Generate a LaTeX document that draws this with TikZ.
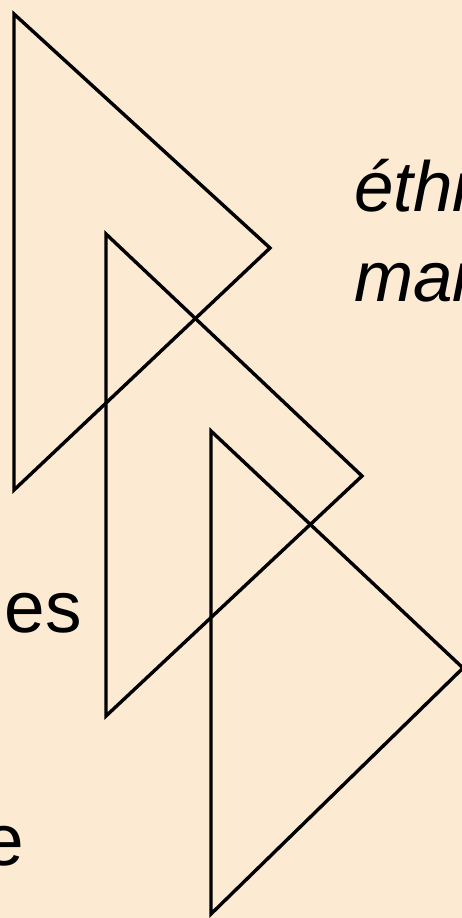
\documentclass[tikz,border=0pt]{standalone}
\usepackage{fontspec}
\setmainfont{Liberation Sans}
\definecolor{bgcol}{HTML}{FCEBD2}
\begin{document}
\begin{tikzpicture}[x=1pt,y=-1pt,
  tri/.style={draw=black,line width=3.4pt,line join=miter},
  lbl/.style={inner sep=0pt,font=\fontsize{73}{88}\selectfont},
  lbli/.style={inner sep=0pt,font=\fontsize{71}{88}\selectfont\itshape}]
\clip (0,0) rectangle (462,918);
\fill[bgcol] (0,0) rectangle (462,918);
\draw[tri] (14,14) -- (270,248) -- (14,490) -- cycle;
\draw[tri] (106,234) -- (362,476) -- (106,716) -- cycle;
\draw[tri] (211,431) -- (463,668) -- (211,914) -- cycle;
\node[lbli,anchor=base west] (t1) at (354,211) {éthi};
\node[lbli,anchor=base west] (t2) at (354,301) {mai};
\node[lbl,anchor=base east] (t3) at (82,632) {ues};
\node[lbl,anchor=base east] (t4) at (24,865) {e};
\end{tikzpicture}
\end{document}
